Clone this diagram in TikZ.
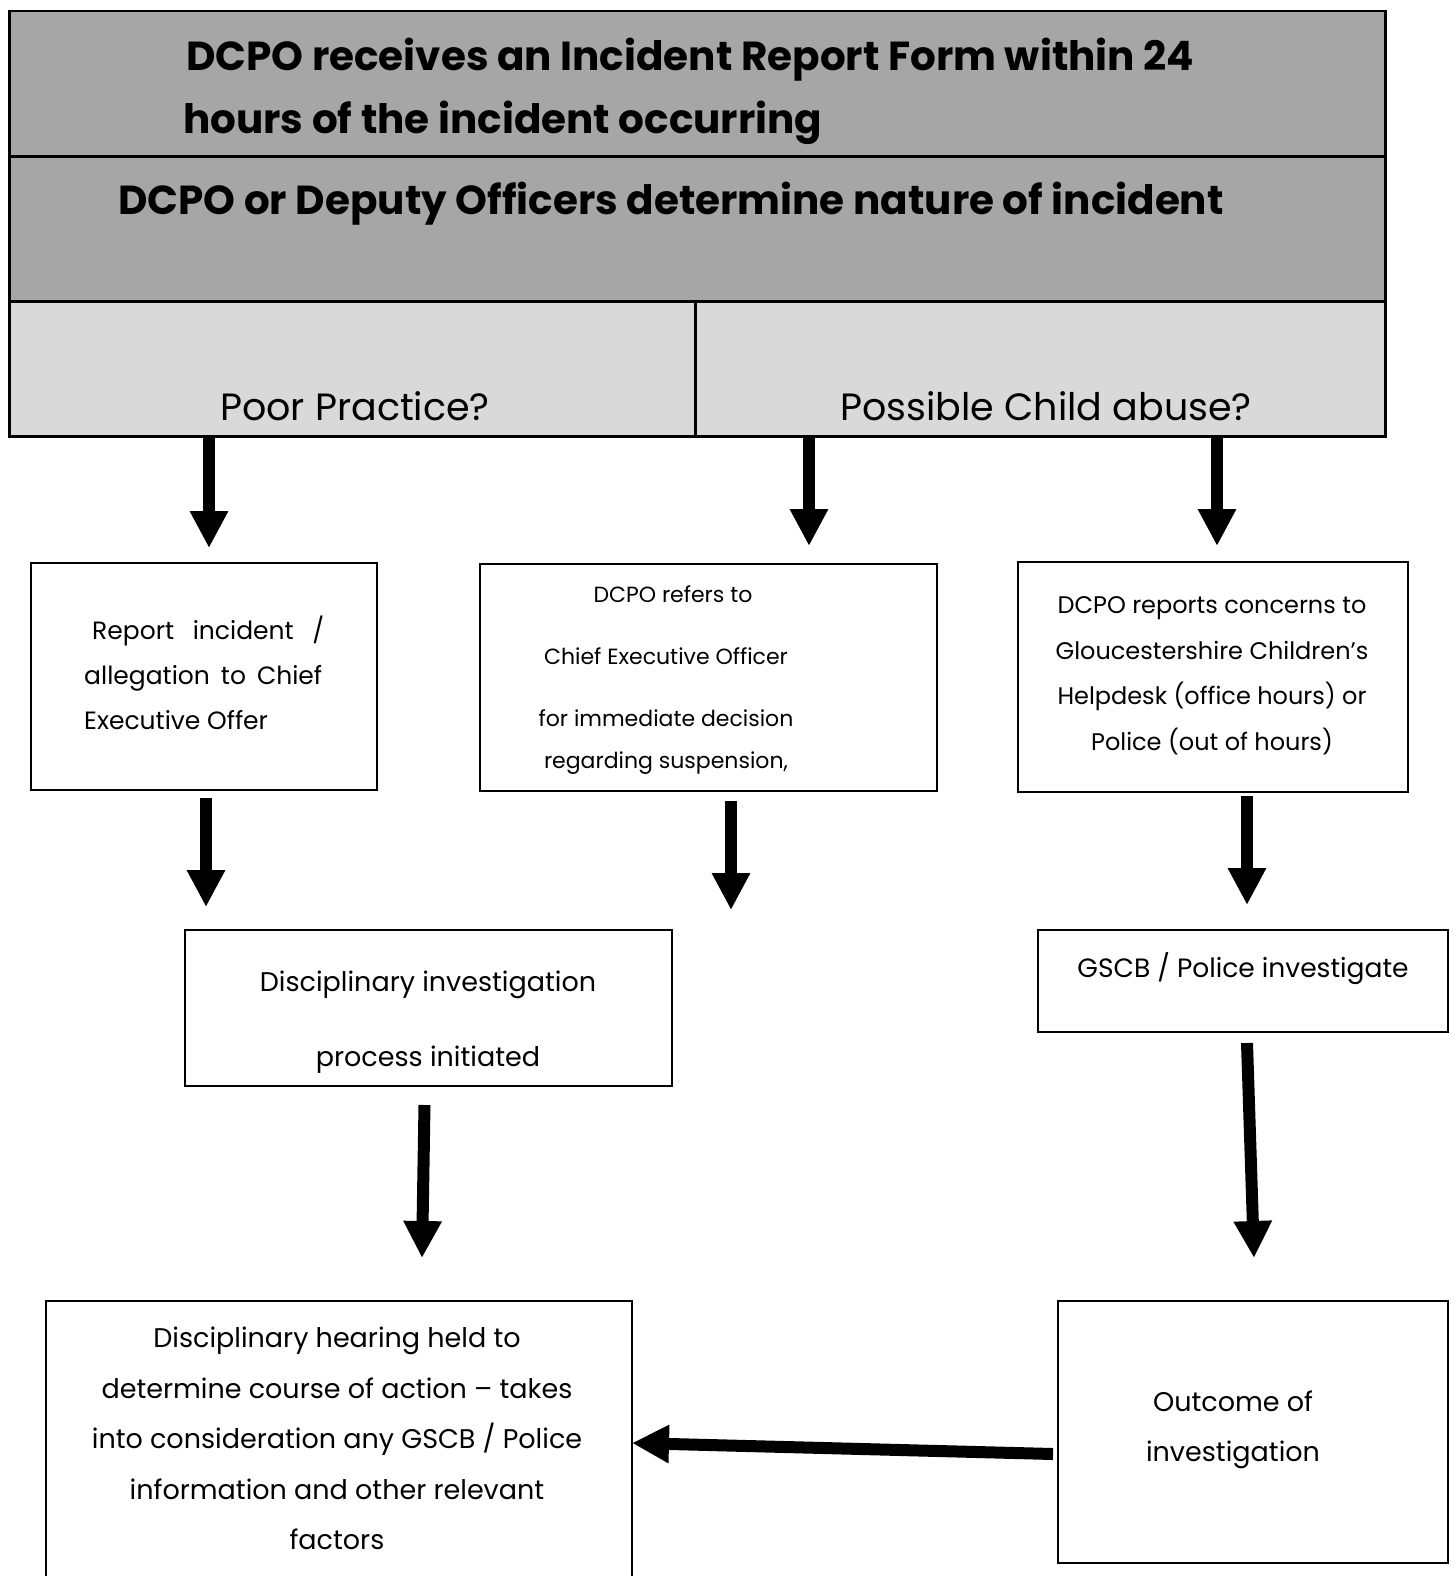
\documentclass[tikz,border=0pt]{standalone}
\usepackage{fontspec}
\setmainfont{Poppins}
\usetikzlibrary{arrows.meta,calc}
\definecolor{headgray}{HTML}{A6A6A6}
\definecolor{choicegray}{HTML}{D9D9D9}
\newcommand\fsize[2]{\fontsize{#1}{#2}\selectfont}
\tikzset{
	box/.style={draw=black, line width=2pt, anchor=north west, inner sep=0pt},
	headbox/.style={box, line width=2.5pt, fill=headgray},
	choicebox/.style={box, line width=2.5pt, fill=choicegray},
	% anchored on the baseline of the last line
	txt/.style={inner sep=0pt, anchor=north, text height=0pt, align=center},
	bigarrow/.style={line width=12pt, -{Triangle[width=36pt,length=37pt]}},
}

\begin{document}
\begin{tikzpicture}[x=1pt, y=-1pt]

	\useasboundingbox (0,0) rectangle (1453,1576);
	\clip (0,0) rectangle (1453,1576);

	% header
	\node[headbox, minimum width=1376pt, minimum height=145pt] (recv) at (8,10) {};
	\node[headbox, minimum width=1376pt, minimum height=145pt] (nature) at (8,155) {};
	\node[choicebox, minimum width=686pt, minimum height=135pt] (poor) at (8,300) {};
	\node[choicebox, minimum width=690pt, minimum height=135pt] (abuse) at (694,300) {};

	\node[txt, anchor=north west, align=left, font=\fsize{40.5}{63}\bfseries] (recv-t) at (186,133)
		{DCPO receives an Incident Report Form within 24\\\hspace*{-3pt}hours of the incident occurring};
	\node[txt, anchor=north west, font=\fsize{40.5}{63}\bfseries] (nature-t) at (118,214)
		{DCPO or Deputy Officers determine nature of incident};
	\node[txt, font=\fsize{38}{40}] (poor-t) at (355,420) {Poor Practice?};
	\node[txt, font=\fsize{38}{40}] (abuse-t) at (1046,420) {Possible Child abuse?};

	% second row
	\node[box, minimum width=346pt, minimum height=227pt] (report) at (30,562) {};
	\node[box, minimum width=457pt, minimum height=227pt] (refer) at (479,563) {};
	\node[box, minimum width=390pt, minimum height=230pt] (concern) at (1017,561) {};

	\node[txt, anchor=north west, align=left, font=\fsize{25}{45}] (report-t) at (84,729)
		{\hspace*{8pt}\makebox[232pt][s]{Report incident /}\\
		 \makebox[238pt][s]{allegation to Chief}\\
		 Executive Offer};
	\node[txt, font=\fsize{22}{62}] (refer-t) at (666,768)
		{\hspace*{14pt}DCPO refers to\\
		 Chief Executive Officer\\
		 for immediate decision\\[-20pt]
		 regarding suspension,};
	\node[txt, font=\fsize{24}{45.5}] (concern-t) at (1212,750)
		{DCPO reports concerns to\\
		 Gloucestershire Children’s\\
		 Helpdesk (office hours) or\\
		 Police (out of hours)};

	% third row
	\node[box, minimum width=487pt, minimum height=156pt] (disc) at (184,929) {};
	\node[box, minimum width=410pt, minimum height=102pt] (gscb) at (1037,929) {};

	\node[txt, font=\fsize{27}{75}] (disc-t) at (428,1066)
		{Disciplinary investigation\\process initiated};
	\node[txt, font=\fsize{26.5}{40}] (gscb-t) at (1243,977) {GSCB / Police investigate};

	% last row
	\node[box, minimum width=586pt, minimum height=330pt] (hearing) at (45,1300) {};
	\node[box, minimum width=390pt, minimum height=262pt] (outcome) at (1057,1300) {};

	\node[txt, font=\fsize{27}{50.5}] (hearing-t) at (337,1549)
		{Disciplinary hearing held to\\
		 determine course of action -- takes\\
		 into consideration any GSCB / Police\\
		 information and other relevant\\
		 factors};
	\node[txt, font=\fsize{27}{50}] (outcome-t) at (1233,1461)
		{Outcome of\\investigation};

	% arrows
	\coordinate (a1) at (209,548);
	\coordinate (a2) at (809,546);
	\coordinate (a3) at (1217,546);
	\coordinate (a4) at (206,907);
	\coordinate (a5) at (731,910);
	\coordinate (a6) at (1247,905);
	\coordinate (a7) at (422,1258);
	\coordinate (a8) at (1254,1258);
	\coordinate (a9) at (632,1443);

	\draw[bigarrow] (poor.south -| a1) -- (a1);
	\draw[bigarrow] (abuse.south -| a2) -- (a2);
	\draw[bigarrow] (abuse.south -| a3) -- (a3);
	\draw[bigarrow] ($(report.south -| a4)+(0,7)$) -- (a4);
	\draw[bigarrow] ($(refer.south -| a5)+(0,9)$) -- (a5);
	\draw[bigarrow] ($(concern.south -| a6)+(0,3)$) -- (a6);
	\draw[bigarrow] ($(disc.south)+(-4,18)$) -- (a7);
	\draw[bigarrow] ($(gscb.south)+(4,10)$) -- (a8);
	\draw[bigarrow] ($(outcome.west)+(-4,22)$) -- (a9);

\end{tikzpicture}
\end{document}
